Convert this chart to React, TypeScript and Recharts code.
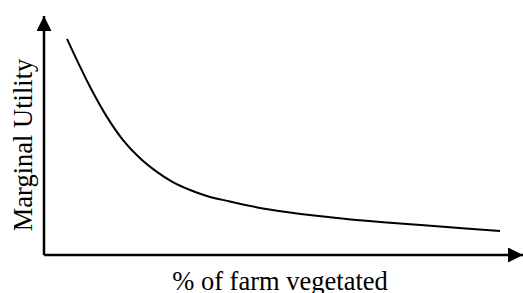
import React from "react";
import { LineChart, Line, XAxis, YAxis, Label } from "recharts";

// % of farm vegetated (relative units, 0-100)
const vegetated = [4.8, 9.6, 13.1, 16.5, 20.0, 23.5, 26.9, 30.5, 34.0, 38.8, 45.7, 52.8, 59.7, 66.6, 72.2, 82.7, 95.2];
// Marginal utility (relative units, 0-100)
const utility = [90.4, 70.4, 57.9, 48.1, 40.6, 34.9, 30.5, 27.2, 24.7, 22.4, 19.5, 17.4, 15.8, 14.4, 13.5, 11.9, 10.0];

const xLabel = "% of farm vegetated";
const yLabel = "Marginal Utility";

const data = vegetated.map((x, i) => ({ x, y: utility[i] }));

const FONT = '"Liberation Serif", "Times New Roman", serif';

const XLabelContent = (props: any) => {
  const vb = props.viewBox || { x: 44, y: 255, width: 479, height: 1 };
  return (
    <text
      x={vb.x + vb.width / 2 - 3.5}
      y={vb.y + 35}
      textAnchor="middle"
      fontFamily={FONT}
      fontSize={26.5}
      fill="#000"
    >
      {xLabel}
    </text>
  );
};

const YLabelContent = (props: any) => {
  const vb = props.viewBox || { x: 43, y: 16, width: 1, height: 239 };
  const cx = vb.x + vb.width - 12;
  const cy = vb.y + vb.height / 2 + 9.5;
  return (
    <text
      x={cx}
      y={cy}
      textAnchor="middle"
      transform={`rotate(-90, ${cx}, ${cy})`}
      fontFamily={FONT}
      fontSize={26.5}
      fill="#000"
    >
      {yLabel}
    </text>
  );
};

export default function App() {
  return (
    <div style={{ position: "absolute", left: 0, top: 0, width: 523, height: 293, background: "#fff" }}>
      <svg width={0} height={0} style={{ position: "absolute" }}>
        <defs>
          <marker
            id="arrowHead"
            viewBox="0 0 15 15"
            markerWidth={15}
            markerHeight={15}
            refX={15}
            refY={7.5}
            orient="auto-start-reverse"
            markerUnits="userSpaceOnUse"
          >
            <path d="M0,0 L15,7.5 L0,15 z" fill="#000" />
          </marker>
        </defs>
      </svg>
      <LineChart width={523} height={293} data={data} margin={{ top: 16, right: 0, bottom: 37, left: 43 }}>
        <XAxis
          dataKey="x"
          type="number"
          domain={[0, 100]}
          height={1}
          tick={false}
          tickLine={false}
          stroke="#000"
          axisLine={{ stroke: "#000", strokeWidth: 2.5, markerEnd: "url(#arrowHead)" }}
        >
          <Label content={XLabelContent} />
        </XAxis>
        <YAxis
          type="number"
          domain={[0, 100]}
          width={1}
          tick={false}
          tickLine={false}
          stroke="#000"
          axisLine={{ stroke: "#000", strokeWidth: 2.5, markerStart: "url(#arrowHead)" }}
        >
          <Label content={YLabelContent} />
        </YAxis>
        <Line
          dataKey="y"
          type="monotone"
          stroke="#000"
          strokeWidth={2}
          dot={false}
          activeDot={false}
          isAnimationActive={false}
        />
      </LineChart>
    </div>
  );
}
